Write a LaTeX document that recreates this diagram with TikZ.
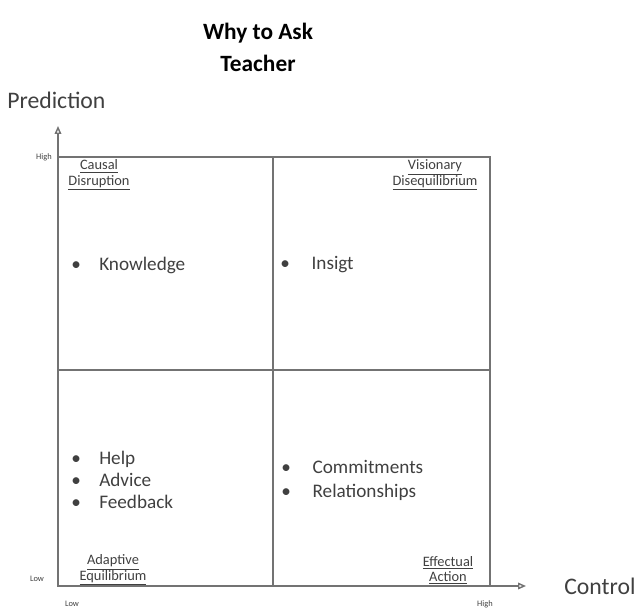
\documentclass[tikz,border=0pt]{standalone}
\usepackage{fontspec}
\setmainfont{Carlito}
\usetikzlibrary{positioning}
\usetikzlibrary{arrows.meta}
\definecolor{axisgray}{rgb}{0.45, 0.45, 0.45}
\definecolor{txtgray}{rgb}{0.25, 0.25, 0.25}
\tikzset{
    grid line/.style = {draw=axisgray, line width=1.1pt},
    axis line/.style = {draw=axisgray, line width=1.1pt, -{Triangle[open,length=6pt,width=5pt]}},
    quad/.style = {font=\fontsize{10.8}{11.4}\selectfont, text=txtgray, align=center, inner sep=0},
    tick/.style = {font=\fontsize{6.3}{7}\selectfont, text=txtgray, inner sep=0},
    items/.style = {font=\fontsize{14.4}{16.5}\selectfont, text=txtgray, align=left, anchor=west, inner sep=0},
    axis name/.style = {font=\fontsize{17.8}{20}\selectfont, text=txtgray, anchor=west, inner sep=0},
}
\newcommand{\itm}[1]{\makebox[21pt][l]{\textbullet}#1}
\newcommand{\itmw}[1]{\makebox[23.5pt][l]{\textbullet}#1}

\begin{document}
\begin{tikzpicture}[x=0.75pt, y=0.75pt]
    \useasboundingbox (0,0) rectangle (643,608);

    % corners and middle of the square
    \coordinate (O) at (58,22);
    \coordinate (TR) at (490,451);
    \coordinate (xend) at (526,22);
    \coordinate (yend) at (58,482);

    % title
    \node[font=\bfseries\fontsize{17.5}{24}\selectfont, align=center] (title) at (258,561) {Why to Ask\\Teacher};

    % axes and quadrants
    \draw[grid line] (O) rectangle (TR);
    \draw[grid line] (273,22) -- (273,451);
    \draw[grid line] (58,238) -- (490,238);
    \draw[axis line] (O) -- (xend);
    \draw[axis line] (O) -- (yend);

    \node[axis name] (pred) at (7,508) {Prediction};
    \node[axis name] (ctrl) at (564,22) {Control};

    \node[tick] (yhigh) at (44,451) {High};
    \node[tick] (ylow) at (37,29) {Low};
    \node[tick] (xlow) at (72,4) {Low};
    \node[tick] (xhigh) at (485,4) {High};

    % quadrant names
    \node[quad] (causal) at (99,433) {\underline{Causal}\\\underline{Disruption}};
    \node[quad] (vision) at (435,433) {\underline{Visionary}\\\underline{Disequilibrium}};
    \node[quad] (adapt) at (113,38) {\underline{Adaptive}\\\underline{Equilibrium}};
    \node[quad] (effect) at (448,38) {\underline{Effectual}\\\underline{Action}};

    % bullet lists
    \node[items] (know) at (71,343) {\itm{Knowledge}};
    \node[items] (insight) at (280,343) {\itmw{Insigt}};
    \node[items] (help) at (71,128) {\itm{Help}\\\itm{Advice}\\\itm{Feedback}};
    \node[items, font=\fontsize{14.4}{18}\selectfont] (commit) at (281,128) {\itmw{Commitments}\\\itmw{Relationships}};
\end{tikzpicture}
\end{document}
